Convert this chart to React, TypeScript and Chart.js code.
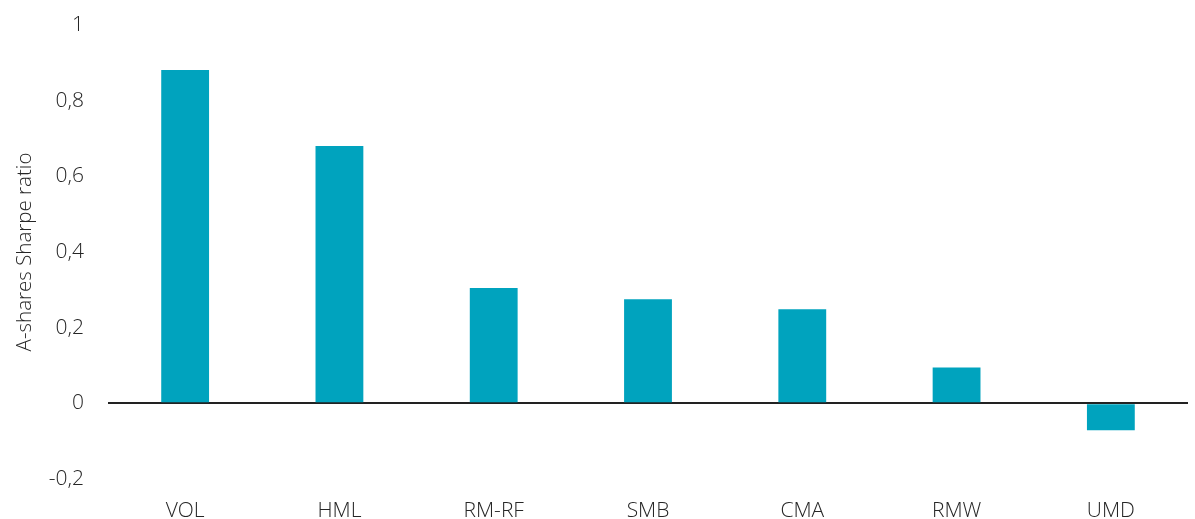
import React, { useEffect, useRef } from "react";
import { Chart, registerables } from "chart.js";

Chart.register(...registerables);

const categories = ["VOL", "HML", "RM-RF", "SMB", "CMA", "RMW", "UMD"];
const sharpeValues = [0.881, 0.68, 0.305, 0.275, 0.249, 0.095, -0.071];
const yTicks = [-0.2, 0, 0.2, 0.4, 0.6, 0.8, 1];
const yTitle = "A-shares Sharpe ratio";

const FONT = "'Open Sans', 'DejaVu Sans', sans-serif";
const TEXT = "#262626";

export default function App() {
  const ref = useRef<HTMLCanvasElement | null>(null);

  useEffect(() => {
    document.body.style.margin = "0";
    const canvas = ref.current;
    if (!canvas) return;
    const chart = new Chart(canvas, {
      type: "bar",
      data: {
        labels: categories,
        datasets: [
          {
            data: sharpeValues,
            backgroundColor: "#00A3BE",
            borderWidth: 0,
            barPercentage: 0.31,
            categoryPercentage: 1,
          },
        ],
      },
      options: {
        animation: false,
        responsive: false,
        maintainAspectRatio: false,
        layout: { padding: { top: 25, right: 7, left: 0, bottom: 0 } },
        plugins: {
          legend: { display: false },
          tooltip: { enabled: false },
        },
        scales: {
          x: {
            grid: { display: false },
            border: { display: false },
            ticks: {
              color: TEXT,
              font: { family: FONT, size: 21, weight: "300" as any },
              padding: 11,
              maxRotation: 0,
            },
            afterFit: (s: any) => {
              s.height = 40;
              s.paddingLeft = 0;
              s.paddingRight = 0;
            },
          },
          y: {
            min: -0.2,
            max: 1,
            border: { display: false },
            afterBuildTicks: (s: any) => {
              s.ticks = yTicks.map((v) => ({ value: v }));
            },
            grid: {
              drawTicks: false,
              color: (ctx: any) =>
                ctx.tick && Math.abs(ctx.tick.value) < 1e-9 ? "#222" : "rgba(0,0,0,0)",
              lineWidth: (ctx: any) =>
                ctx.tick && Math.abs(ctx.tick.value) < 1e-9 ? 2 : 0,
            },
            ticks: {
              color: TEXT,
              font: { family: FONT, size: 21, weight: "300" as any },
              padding: 24,
              callback: (v: any) => String(Math.round(Number(v) * 10) / 10).replace(".", ","),
            },
            title: {
              display: true,
              text: yTitle,
              color: TEXT,
              font: { family: FONT, size: 20.5, weight: "300" as any },
              padding: { top: 13, bottom: 0 },
            },
            afterFit: (s: any) => {
              s.width = 108;
              s.paddingTop = 0;
              s.paddingBottom = 0;
            },
          },
        },
      },
    });
    return () => chart.destroy();
  }, []);

  return (
    <div style={{ width: 1195, height: 519 }}>
      <canvas ref={ref} width={1195} height={519} style={{ display: "block", width: 1195, height: 519 }} />
    </div>
  );
}
